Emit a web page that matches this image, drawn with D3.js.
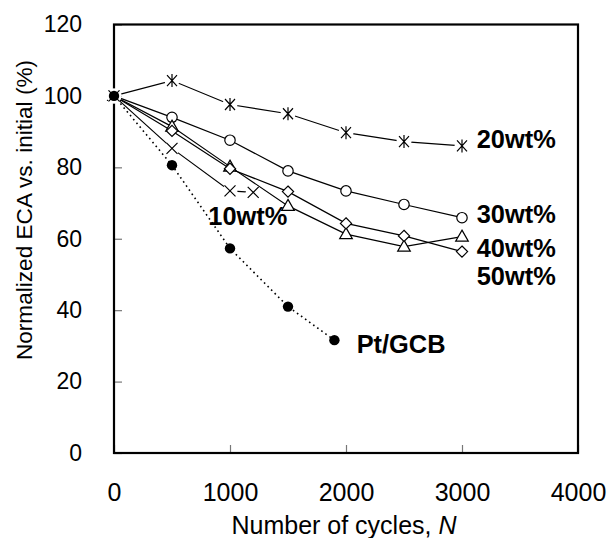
<!DOCTYPE html>
<html>
<head>
<meta charset="utf-8">
<script src="https://cdn.jsdelivr.net/npm/d3@7"></script>
<style>
    body { margin: 0; background: #fff; }
    text { font-family: "Liberation Sans", Arial, sans-serif; fill: #000; }
</style>
</head>
<body>
<div id="viz"></div>
<script>
// values
const cycles = [0, 500, 1000, 1500, 2000, 2500, 3000];
const wt20 = [100, 104.3, 97.6, 95.0, 89.7, 87.2, 86.0];
const wt30 = [100, 94.0, 87.6, 79.0, 73.4, 69.6, 65.9];
const wt40 = [100, 91.4, 80.2, 69.2, 61.3, 57.8, 60.6];
const wt50 = [100, 90.2, 79.6, 73.2, 64.3, 60.8, 56.4];
const cycles10 = [0, 500, 1000, 1200];
const wt10 = [100, 85.3, 73.4, 73.0];
const cyclesPt = [0, 500, 1000, 1500, 1900];
const ptGcb = [100, 80.6, 57.3, 41.0, 31.6];

const xTicks = [0, 1000, 2000, 3000, 4000];
const yTicks = [0, 20, 40, 60, 80, 100, 120];

const seriesNames = ["20wt%", "30wt%", "40wt%", "50wt%", "10wt%", "Pt/GCB"];
const seriesX = [cycles, cycles, cycles, cycles, cycles10, cyclesPt];
const seriesY = [wt20, wt30, wt40, wt50, wt10, ptGcb];
const seriesMarker = ["asterisk", "circle", "triangle", "diamond", "times", "dot"];

// label anchors in data units (left edge, baseline)
const labelX = [3127, 3127, 3127, 3127, 813, 2092];
const labelY = [85.3, 64.5, 55.0, 47.0, 63.8, 27.9];

function drawChart() {
    let width = 610, height = 538;
    let left = 114, right = 578, top = 24.5, bottom = 453;

    let svg = d3.select("#viz")
        .append("svg")
        .attr("width", width)
        .attr("height", height);

    let x = d3.scaleLinear().domain([0, 4000]).range([left, right]);
    let y = d3.scaleLinear().domain([0, 120]).range([bottom, top]);

    // axes, ticks pointing inward
    let yAxis = svg.append("g")
        .attr("transform", "translate(" + left + ",0)")
        .call(d3.axisLeft(y).tickValues(yTicks).tickSizeInner(-8).tickSizeOuter(0).tickPadding(32));
    let xAxis = svg.append("g")
        .attr("transform", "translate(0," + bottom + ")")
        .call(d3.axisBottom(x).tickValues(xTicks).tickFormat(d3.format("d"))
            .tickSizeInner(-8).tickSizeOuter(0).tickPadding(30));

    [xAxis, yAxis].forEach(function (ax) {
        ax.select(".domain").remove();
        ax.selectAll(".tick line").attr("stroke", "#777").attr("stroke-width", 1.2);
        ax.selectAll(".tick text")
            .attr("fill", "#000")
            .style("font-family", "'Liberation Sans', Arial, sans-serif");
    });
    yAxis.selectAll(".tick text").style("font-size", "23px");
    xAxis.selectAll(".tick text").style("font-size", "25px");

    // frame
    svg.append("rect")
        .attr("x", left)
        .attr("y", top)
        .attr("width", right - left)
        .attr("height", bottom - top)
        .style("fill", "none")
        .style("stroke", "#000")
        .style("stroke-width", 2.2);

    // lines
    let line = d3.line();
    seriesY.forEach(function (vals, i) {
        let pts = vals.map(function (v, j) { return [x(seriesX[i][j]), y(v)]; });
        svg.append("path")
            .attr("d", line(pts))
            .style("fill", "none")
            .style("stroke", "#000")
            .style("stroke-width", i == 5 ? 1.6 : 1.2)
            .style("stroke-dasharray", i == 5 ? "1.6,3.4" : null);
    });

    // markers
    function markerPath(type) {
        if (type == "triangle") return "M0,-6.5L6.3,4.5L-6.3,4.5Z";
        if (type == "diamond") return "M0,-5.6L5.6,0L0,5.6L-5.6,0Z";
        if (type == "times") return "M-5.5,-5.5L5.5,5.5M5.5,-5.5L-5.5,5.5";
        if (type == "asterisk") return "M-5,-5.5L5,5.5M5,-5.5L-5,5.5M0,-6.5L0,6.5";
        return null;
    }

    seriesY.forEach(function (vals, i) {
        let type = seriesMarker[i];
        let g = svg.append("g");
        vals.forEach(function (v, j) {
            let cx = x(seriesX[i][j]), cy = y(v);
            let m = g.append("g").attr("transform", "translate(" + cx + "," + cy + ")");
            if (type == "dot") {
                m.append("circle").attr("r", 5.2).style("fill", "#000");
            } else if (type == "circle") {
                m.append("circle").attr("r", 5.2)
                    .style("fill", "#fff").style("stroke", "#000").style("stroke-width", 1.2);
            } else {
                if (type == "times" || type == "asterisk") {
                    m.append("circle").attr("r", 7.5).style("fill", "#fff");
                }
                m.append("path")
                    .attr("d", markerPath(type))
                    .style("fill", "#fff")
                    .style("stroke", "#000")
                    .style("stroke-width", 1.2);
            }
        });
    });

    // series labels
    seriesNames.forEach(function (name, i) {
        svg.append("text")
            .attr("x", x(labelX[i]))
            .attr("y", y(labelY[i]))
            .style("font-size", "25.4px")
            .style("font-weight", "bold")
            .text(name);
    });

    // axis titles
    let xt = svg.append("text")
        .attr("x", 344)
        .attr("y", 534)
        .attr("text-anchor", "middle")
        .style("font-size", "25px");
    xt.append("tspan").text("Number of cycles, ");
    xt.append("tspan").style("font-style", "italic").text("N");

    svg.append("text")
        .attr("transform", "translate(31.7,210) rotate(-90)")
        .attr("text-anchor", "middle")
        .style("font-size", "22.6px")
        .text("Normalized ECA vs. initial (%)");
}

drawChart();
</script>
</body>
</html>
